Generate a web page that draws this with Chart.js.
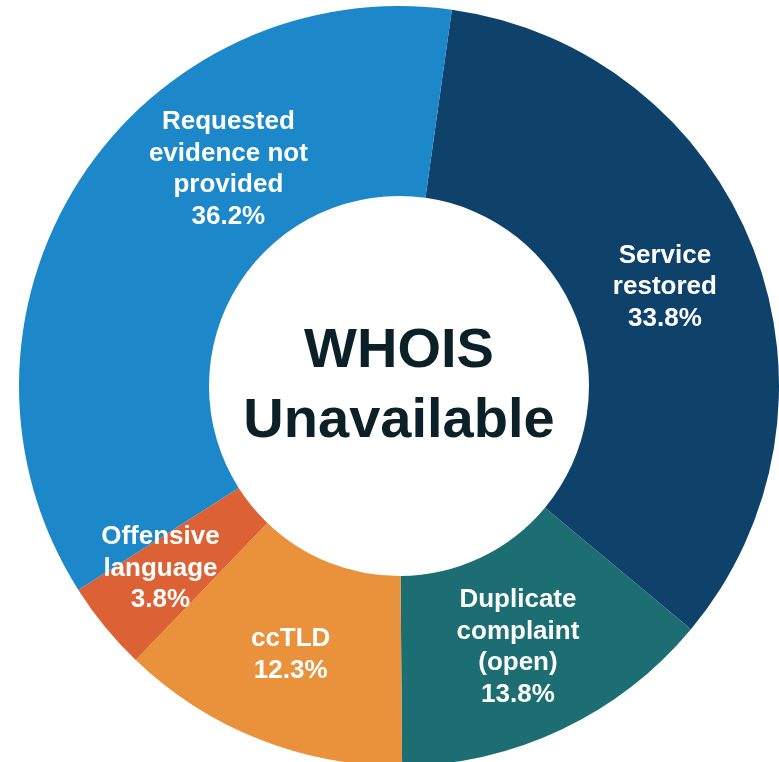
<!DOCTYPE html>
<html>
<head>
<meta charset="utf-8">
<script src="https://cdn.jsdelivr.net/npm/chart.js@4.4.1/dist/chart.umd.min.js"></script>
<style>
    html, body { margin: 0; padding: 0; background: #fff; overflow: hidden; width: 779px; height: 762px; }
    #wrap { position: absolute; left: 19px; top: 6px; width: 760px; height: 760px; }
</style>
</head>
<body>
<div id="wrap"><canvas id="whoisChart"></canvas></div>
<script>
// Closure reasons, clockwise from just right of top
const categories = [
    ['Service', 'restored'],
    ['Duplicate', 'complaint', '(open)'],
    ['ccTLD'],
    ['Offensive', 'language'],
    ['Requested', 'evidence not', 'provided']
];
const shares = [33.8, 13.8, 12.3, 3.8, 36.2];
const sliceColors = ['#0F426B', '#1D6E73', '#E9913B', '#DC6235', '#1C87C9'];
const centerTitle = ['WHOIS', 'Unavailable'];

// small nudges so labels sit where the original put them
const labelNudge = [[0, 2], [-3, 2], [-3, 2], [-18, 0], [69, -64]];

const labelPlugin = {
    id: 'sliceLabels',
    afterDatasetsDraw(chart) {
        const ctx = chart.ctx;
        const arcs = chart.getDatasetMeta(0).data;
        ctx.save();
        ctx.fillStyle = '#ffffff';
        ctx.textAlign = 'center';
        ctx.textBaseline = 'alphabetic';
        ctx.font = 'bold 26px "Liberation Sans", Arial, sans-serif';
        arcs.forEach(function(arc, i) {
            const mid = (arc.startAngle + arc.endAngle) / 2;
            const r = (arc.innerRadius + arc.outerRadius) / 2;
            const cx = arc.x + Math.cos(mid) * r + labelNudge[i][0];
            const cy = arc.y + Math.sin(mid) * r + labelNudge[i][1];
            const lines = categories[i].concat([shares[i].toFixed(1) + '%']);
            const lh = 31.5;
            const top = cy - (lines.length - 1) * lh / 2;
            lines.forEach(function(t, k) {
                ctx.fillText(t, cx, top + k * lh + 9);
            });
        });

        // centre title
        const c = arcs[0];
        ctx.fillStyle = '#0C2027';
        ctx.font = 'bold 56px "Liberation Sans", Arial, sans-serif';
        ctx.fillText(centerTitle[0], c.x, c.y - 19);
        ctx.fillText(centerTitle[1], c.x, c.y + 51);
        ctx.restore();
    }
};

document.addEventListener("DOMContentLoaded", function() {
    new Chart(document.getElementById('whoisChart').getContext('2d'), {
        type: 'doughnut',
        data: {
            labels: categories.map(function(c) { return c.join(' '); }),
            datasets: [{
                data: shares,
                backgroundColor: sliceColors,
                borderWidth: 0
            }]
        },
        options: {
            responsive: true,
            maintainAspectRatio: false,
            animation: false,
            cutout: '50%',
            rotation: 8,
            layout: { padding: 0 },
            plugins: {
                legend: { display: false },
                tooltip: { enabled: false }
            }
        },
        plugins: [labelPlugin]
    });
});
</script>
</body>
</html>
